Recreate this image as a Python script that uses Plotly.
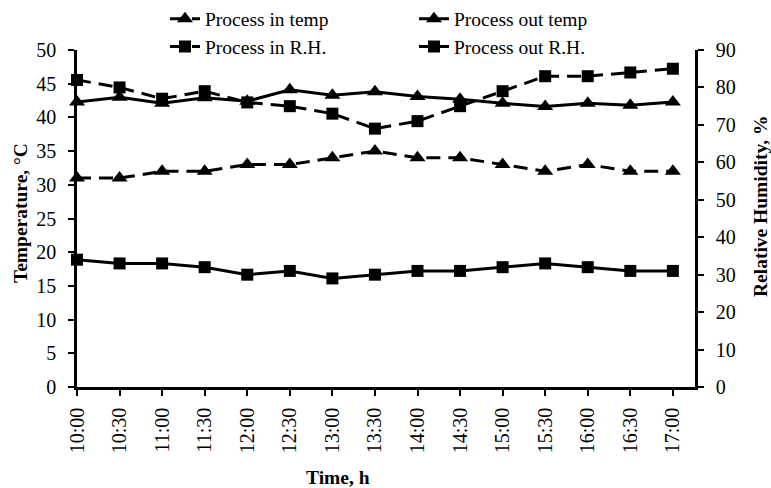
import plotly.graph_objects as go

times = ["10:00", "10:30", "11:00", "11:30", "12:00", "12:30", "13:00", "13:30",
         "14:00", "14:30", "15:00", "15:30", "16:00", "16:30", "17:00"]
in_temp = [31, 31, 32, 32, 33, 33, 34, 35, 34, 34, 33, 32, 33, 32, 32]
out_temp = [42.3, 43.0, 42.1, 42.9, 42.4, 44.1, 43.3, 43.8, 43.1, 42.7, 42.1, 41.6, 42.1, 41.8, 42.3]
in_rh = [82, 80, 77, 79, 76, 75, 73, 69, 71, 75, 79, 83, 83, 84, 85]
out_rh = [34, 33, 33, 32, 30, 31, 29, 30, 31, 31, 32, 33, 32, 31, 31]

FONT = "Liberation Serif"
DASH = "14px,8px"
LW = 3

fig = go.Figure()
fig.add_trace(go.Scatter(x=times, y=in_temp, name="Process in temp", mode="lines+markers",
                         line=dict(color="black", width=LW, dash=DASH),
                         marker=dict(symbol="triangle-up", size=14, color="black"),
                         cliponaxis=False, legend="legend"))
fig.add_trace(go.Scatter(x=times, y=out_temp, name="Process out temp", mode="lines+markers",
                         line=dict(color="black", width=LW),
                         marker=dict(symbol="triangle-up", size=14, color="black"),
                         cliponaxis=False, legend="legend"))
fig.add_trace(go.Scatter(x=times, y=in_rh, name="Process in R.H.", mode="lines+markers",
                         line=dict(color="black", width=LW, dash=DASH),
                         marker=dict(symbol="square", size=12, color="black"),
                         yaxis="y2", cliponaxis=False, legend="legend2"))
fig.add_trace(go.Scatter(x=times, y=out_rh, name="Process out R.H.", mode="lines+markers",
                         line=dict(color="black", width=LW),
                         marker=dict(symbol="square", size=12, color="black"),
                         yaxis="y2", cliponaxis=False, legend="legend2"))

axis_common = dict(showline=True, linecolor="black", linewidth=2.5, ticks="outside",
                   ticklen=6, tickwidth=2, tickcolor="black", showgrid=False, zeroline=False,
                   tickfont=dict(family=FONT, size=20, color="black"))

fig.update_layout(
    width=771, height=488,
    margin=dict(l=77, r=76, t=50, b=101, autoexpand=False),
    plot_bgcolor="white", paper_bgcolor="white",
    font=dict(family=FONT, size=20, color="black"),
    xaxis=dict(type="category", range=[0, 14.52], tickangle=-90, ticklabelstandoff=4,
               **axis_common),
    yaxis=dict(range=[0, 50], dtick=5, ticklabelstandoff=8, **axis_common),
    yaxis2=dict(range=[0, 90], dtick=10, overlaying="y", side="right", ticklabelstandoff=8,
                **axis_common),
    legend=dict(orientation="h", xref="container", yref="container", x=0.214, y=0.961,
                xanchor="left", yanchor="middle", entrywidth=204, bgcolor="rgba(0,0,0,0)",
                font=dict(family=FONT, size=19.5, color="black")),
    legend2=dict(orientation="h", xref="container", yref="container", x=0.214, y=0.904,
                 xanchor="left", yanchor="middle", entrywidth=204, bgcolor="rgba(0,0,0,0)",
                 font=dict(family=FONT, size=19.5, color="black")),
    annotations=[
        dict(text="<b>Temperature, °C</b>", xref="paper", yref="paper",
             x=(20 - 77) / 618, y=(387 - 213) / 337, textangle=-90, showarrow=False,
             xanchor="center", yanchor="middle",
             font=dict(family=FONT, size=19.5, color="black")),
        dict(text="<b>Relative Humidity, %</b>", xref="paper", yref="paper",
             x=(760 - 77) / 618, y=(387 - 207) / 337, textangle=-90, showarrow=False,
             xanchor="center", yanchor="middle",
             font=dict(family=FONT, size=19.5, color="black")),
        dict(text="<b>Time, h</b>", xref="paper", yref="paper",
             x=(338 - 77) / 618, y=(387 - 478) / 337, showarrow=False,
             xanchor="center", yanchor="middle",
             font=dict(family=FONT, size=19.5, color="black")),
    ],
)

fig.write_html("out.html", config={"displayModeBar": False},
               post_script="document.body.style.margin='0';")
